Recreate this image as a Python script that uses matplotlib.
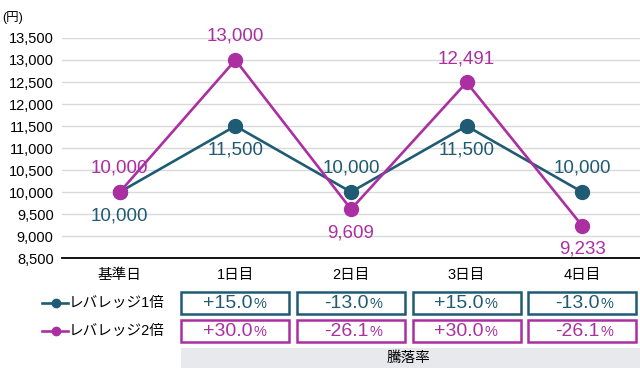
import matplotlib
matplotlib.use("Agg")
import matplotlib.pyplot as plt
from matplotlib.lines import Line2D
from matplotlib.patches import Rectangle
from matplotlib.transforms import blended_transform_factory

plt.rcParams['font.family'] = ['Liberation Sans', 'Noto Sans CJK JP', 'DejaVu Sans']

# data
days = ['基準日', '1日目', '2日目', '3日目', '4日目']
lev1 = [10000, 11500, 10000, 11500, 10000]
lev2 = [10000, 13000, 9609, 12491, 9233]
rate1 = ['+15.0', '-13.0', '+15.0', '-13.0']
rate2 = ['+30.0', '-26.1', '+30.0', '-26.1']
names = ['レバレッジ1倍', 'レバレッジ2倍']
yticks = list(range(8500, 14000, 500))
# label placement: +1 above, -1 below
pos1 = [-1, -1, 1, -1, 1]
pos2 = [1, 1, -1, 1, -1]

c1 = '#1F5B72'
c2 = '#AB2FA1'

W, H = 640, 380
fig = plt.figure(figsize=(6.4, 3.8), dpi=100)

def fy(py):  # pixel from top -> figure fraction
    return 1 - py / H

ax = fig.add_axes([62 / W, fy(258), (640 - 62) / W, (258 - 38) / H])
x = list(range(len(days)))
ax.plot(x, lev1, color=c1, lw=1.9, marker='o', ms=10, zorder=3, clip_on=False)
ax.plot(x, lev2, color=c2, lw=1.9, marker='o', ms=10, zorder=4, clip_on=False)

for xi, v, p in zip(x, lev1, pos1):
    ax.annotate(f'{v:,}', (xi, v), xytext=(0, 17 * p), textcoords='offset points',
                ha='center', va='center', fontsize=13.5, color=c1, zorder=5)
for xi, v, p in zip(x, lev2, pos2):
    ax.annotate(f'{v:,}', (xi, v), xytext=(0, 17 * p), textcoords='offset points',
                ha='center', va='center', fontsize=13.5, color=c2, zorder=5)

ax.set_xlim(-0.5, 4.5)
ax.set_ylim(8500, 13500)
ax.set_yticks(yticks)
ax.set_yticklabels([f'{t:,}' for t in yticks], fontsize=10.5)
ax.set_xticks([])
ax.tick_params(axis='y', length=0, pad=6)
ax.grid(axis='y', color='#D9D9D9', lw=1)
ax.set_axisbelow(True)
for s in ['top', 'right', 'left']:
    ax.spines[s].set_visible(False)
ax.spines['bottom'].set_linewidth(1.3)
ax.spines['bottom'].set_zorder(6)
fig.text(2 / W, fy(18), '(円)', fontsize=9, va='center', ha='left')

# table below
tr = blended_transform_factory(ax.transData, fig.transFigure)
for xi, d in zip(x, days):
    ax.text(xi, fy(275), d, transform=tr, fontsize=10.5, ha='center', va='center',
            clip_on=False)

bw = 0.935
for row, (rates, col, cy) in enumerate([(rate1, c1, 303), (rate2, c2, 331)]):
    for xi, r in zip(x[1:], rates):
        ax.add_patch(Rectangle((xi - bw / 2, fy(cy + 11)), bw, 22 / H, transform=tr,
                               fill=False, ec=col, lw=1.8, clip_on=False))
        t = ax.text(xi + 0.15, fy(cy), r, transform=tr, fontsize=14, color=col,
                    ha='right', va='center', clip_on=False)
        ax.annotate('%', xy=(1, 0.5), xycoords=t, xytext=(0.5, -0.5), textcoords='offset points',
                    fontsize=10.5, color=col, ha='left', va='center')
    # legend entry
    fig.add_artist(Line2D([42 / W, 68 / W], [fy(cy), fy(cy)], transform=fig.transFigure,
                          color=col, lw=1.9))
    fig.add_artist(Line2D([56 / W], [fy(cy)], transform=fig.transFigure, color=col,
                          marker='o', ms=6))
    fig.text(69 / W, fy(cy), names[row], fontsize=10.5, ha='left', va='center')

ax.add_patch(Rectangle((0.5 + (1 - bw) / 2, fy(368)), 4 - (1 - bw) / 2 + 0.47, 20 / H,
                       transform=tr, fc='#E8E9ED', ec='none', clip_on=False))
ax.text(2.5, fy(358), '騰落率', transform=tr, fontsize=10.5, ha='center', va='center',
        clip_on=False)

fig.savefig('out.png', dpi=100)
